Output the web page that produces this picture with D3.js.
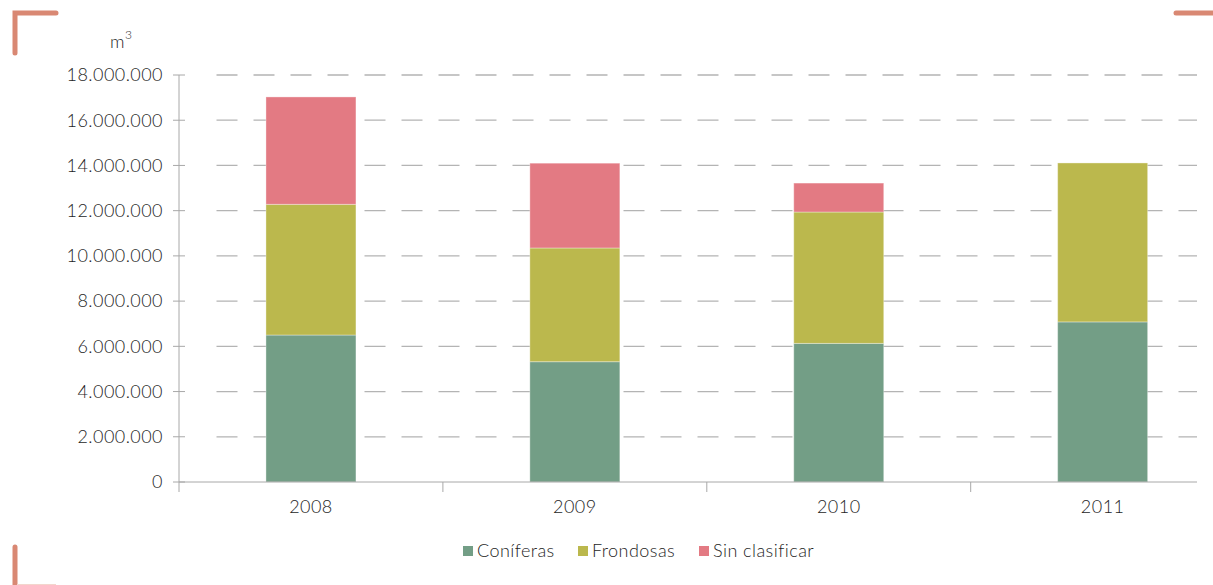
<!DOCTYPE html>
<html><head><meta charset="utf-8">
<script src="https://cdn.jsdelivr.net/npm/d3@7"></script>
<style>
html,body{margin:0;padding:0;background:#fff;}
svg text{font-family:Lato,"Open Sans",sans-serif;fill:#1e1e1e;font-weight:300;letter-spacing:0.45px;}
</style></head>
<body><svg id="c" width="1213" height="585"></svg>
<script>
const years = ["2008","2009","2010","2011"];
const coniferas = [6500000, 5320000, 6130000, 7080000];
const frondosas = [5780000, 5030000, 5810000, 7030000];
const sinClasificar = [4750000, 3750000, 1280000, 0];
const seriesNames = ["Coníferas","Frondosas","Sin clasificar"];
const seriesColors = ["#739E86","#BBB84D","#E37A83"];
const yTicks = [0,2000000,4000000,6000000,8000000,10000000,12000000,14000000,16000000,18000000];

(function(){
const svg = d3.select("#c");
const pl = 179, pr = 1197, pt = 75, pb = 482;
const fs = 18;
const y = d3.scaleLinear().domain([0,18000000]).range([pb, pt]);
const x = d3.scaleBand().domain(years).range([pl, pl + 4*263.9]).padding(0);
const barW = x.bandwidth()*0.341;

const fmt = v => d3.format(",")(v).replace(/,/g,".");

// gridlines
const g = svg.append("g");
yTicks.forEach(t => {
  if (t > 0) {
    g.append("line").attr("x1", 216.5).attr("x2", pr).attr("y1", y(t)).attr("y2", y(t))
      .attr("stroke", "#b4b4b4").attr("stroke-width", 1.3).attr("stroke-dasharray", "21,16");
  }
  g.append("line").attr("x1", 173).attr("x2", 185).attr("y1", y(t)).attr("y2", y(t))
    .attr("stroke", "#a8a8a8").attr("stroke-width", 1);
  g.append("text").attr("x", 163).attr("y", y(t)).attr("dy", "0.35em")
    .attr("text-anchor", "end").attr("font-size", fs).text(fmt(t));
});

// stacked bars
const rows = years.map((yr,i) => ({year: yr, c: coniferas[i], f: frondosas[i], s: sinClasificar[i]}));
const stack = d3.stack().keys(["c","f","s"])(rows);
stack.forEach((layer, k) => {
  svg.append("g").selectAll("rect").data(layer).join("rect")
    .attr("x", d => x(d.data.year) + (x.bandwidth()-barW)/2)
    .attr("width", barW)
    .attr("y", d => y(d[1]))
    .attr("height", d => Math.max(0, y(d[0]) - y(d[1])))
    .attr("fill", seriesColors[k])
    .attr("stroke", d => (d[1]-d[0]) > 0 ? "rgba(255,255,255,0.35)" : "none")
    .attr("stroke-width", 1);
});

// axes
svg.append("line").attr("x1", pl).attr("x2", pl).attr("y1", pt).attr("y2", pb+10)
  .attr("stroke", "#a8a8a8").attr("stroke-width", 1);
svg.append("line").attr("x1", pl).attr("x2", pr).attr("y1", pb).attr("y2", pb)
  .attr("stroke", "#a8a8a8").attr("stroke-width", 1);
years.forEach((yr,i) => {
  if (i > 0) svg.append("line").attr("x1", x(yr)).attr("x2", x(yr)).attr("y1", pb).attr("y2", pb+10)
    .attr("stroke", "#a8a8a8").attr("stroke-width", 1);
  svg.append("text").attr("x", x(yr) + x.bandwidth()/2).attr("y", 507).attr("dy", "0.35em")
    .attr("text-anchor", "middle").attr("font-size", fs).text(yr);
});

// unit
const u = svg.append("text").attr("x", 110).attr("y", 48).attr("font-size", fs);
u.append("tspan").text("m");
u.append("tspan").attr("dy", -9).attr("font-size", 12).text("3");

// legend
const legX = [463, 578, 699];
seriesNames.forEach((n,k) => {
  svg.append("rect").attr("x", legX[k]).attr("y", 546).attr("width", 10).attr("height", 10).attr("fill", seriesColors[k]);
  svg.append("text").attr("x", legX[k]+14).attr("y", 551).attr("dy", "0.35em").attr("font-size", fs).text(n);
});

// corner brackets
const bc = "#D98873";
svg.append("path").attr("d", "M15,53 L15,13 L56,13").attr("fill","none").attr("stroke", bc)
  .attr("stroke-width", 5).attr("stroke-linecap","round").attr("stroke-linejoin","miter");
svg.append("path").attr("d", "M1176,13 L1215,13").attr("fill","none").attr("stroke", bc)
  .attr("stroke-width", 5).attr("stroke-linecap","round");
svg.append("path").attr("d", "M15,547 L15,590").attr("fill","none").attr("stroke", bc)
  .attr("stroke-width", 5).attr("stroke-linecap","round");
svg.append("line").attr("x1", 17).attr("x2", 56).attr("y1", 584.5).attr("y2", 584.5)
  .attr("stroke", "#f3d6cd").attr("stroke-width", 1);
})();
</script></body></html>
